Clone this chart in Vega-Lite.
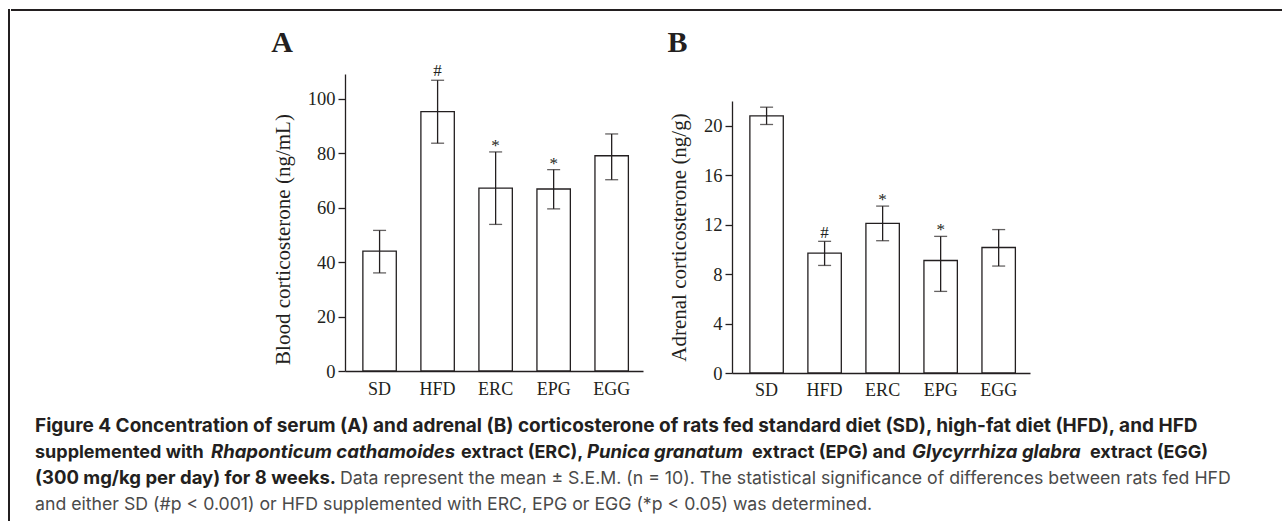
{
  "$schema": "https://vega.github.io/schema/vega-lite/v6.json",
  "padding": {"left": 8, "top": 9, "right": 0, "bottom": 0},
  "autosize": {"type": "pad"},
  "background": "white",
  "config": {
    "view": {"stroke": null},
    "font": "Liberation Serif"
  },
  "spacing": 0,
  "align": "none",
  "hconcat": [
    {
      "width": 0.001,
      "height": 540,
      "view": {"stroke": "#231f20", "strokeWidth": 2},
      "data": {"values": [{}]},
      "mark": {"type": "text", "text": " ", "fontSize": 0.01}
    },
    {
      "spacing": 16,
      "align": "none",
      "vconcat": [
        {
          "width": 1300,
          "height": 0.001,
          "view": {"stroke": "#231f20", "strokeWidth": 2},
          "data": {"values": [{}]},
          "mark": {"type": "text", "text": " ", "fontSize": 0.01}
        },
        {
          "spacing": 16.5,
          "align": "none",
          "vconcat": [
            {
              "spacing": 24,
              "align": "none",
              "hconcat": [
                {
                  "width": 235,
                  "height": 1,
                  "data": {"values": [{}]},
                  "mark": {"type": "text", "text": " ", "fontSize": 0.01}
                },
                {
                  "width": 298,
                  "height": 297,
                  "title": {"text": "A", "anchor": "start", "frame": "bounds", "font": "Liberation Serif", "fontSize": 30, "fontWeight": "bold", "offset": 4, "dx": -1, "color": "#231f20"},
                  "data": {"values": [
                    {"group": "SD", "mean": 44.0, "lo": 36.0, "hi": 51.6, "sig": ""},
                    {"group": "HFD", "mean": 95.2, "lo": 83.6, "hi": 106.7, "sig": "#"},
                    {"group": "ERC", "mean": 67.1, "lo": 53.8, "hi": 80.4, "sig": "*"},
                    {"group": "EPG", "mean": 66.8, "lo": 59.5, "hi": 73.9, "sig": "*"},
                    {"group": "EGG", "mean": 79.0, "lo": 70.2, "hi": 87.0, "sig": ""}
                  ]},
                  "encoding": {
                    "x": {
                      "field": "group", "type": "nominal", "sort": null,
                      "scale": {"paddingInner": 0.424, "paddingOuter": 0.28, "align": 0.55},
                      "axis": {"title": null, "domainColor": "#231f20", "domainWidth": 1.3, "ticks": false, "tickSize": 0, "labelFont": "Liberation Serif", "labelFontSize": 18, "labelColor": "#231f20", "labelPadding": 23, "labelBaseline": "alphabetic", "labelAngle": 0}
                    }
                  },
                  "layer": [
                    {
                      "mark": {"type": "bar", "fill": "white", "stroke": "#231f20", "strokeWidth": 1.3},
                      "encoding": {
                        "y": {
                          "field": "mean", "type": "quantitative",
                          "scale": {"domain": [0, 109], "nice": false},
                          "title": "Blood corticosterone (ng/mL)",
                          "axis": {"values": [0, 20, 40, 60, 80, 100], "grid": false, "domainColor": "#231f20", "domainWidth": 1.3, "tickColor": "#231f20", "tickWidth": 1.3, "tickSize": 7, "labelFont": "Liberation Serif", "labelFontSize": 18.5, "labelColor": "#231f20", "labelPadding": 3, "titleFont": "Liberation Serif", "titleFontSize": 21, "titleFontWeight": "normal", "titleColor": "#231f20", "titlePadding": 14, "titleY": 165}
                        }
                      }
                    },
                    {
                      "mark": {"type": "rule", "color": "#231f20", "strokeWidth": 1.3},
                      "encoding": {
                        "y": {"field": "lo", "type": "quantitative", "scale": {"domain": [0, 109], "nice": false}, "title": "Blood corticosterone (ng/mL)"},
                        "y2": {"field": "hi"}
                      }
                    },
                    {
                      "mark": {"type": "tick", "color": "#231f20", "size": 13, "thickness": 1.3},
                      "encoding": {"y": {"field": "lo", "type": "quantitative", "scale": {"domain": [0, 109], "nice": false}, "title": "Blood corticosterone (ng/mL)"}}
                    },
                    {
                      "mark": {"type": "tick", "color": "#231f20", "size": 13, "thickness": 1.3},
                      "encoding": {"y": {"field": "hi", "type": "quantitative", "scale": {"domain": [0, 109], "nice": false}, "title": "Blood corticosterone (ng/mL)"}}
                    },
                    {
                      "transform": [{"filter": "datum.sig == '#'"}],
                      "mark": {"type": "text", "font": "Liberation Serif", "fontSize": 17, "color": "#231f20", "baseline": "alphabetic", "dy": -4},
                      "encoding": {"y": {"field": "hi", "type": "quantitative", "scale": {"domain": [0, 109], "nice": false}, "title": "Blood corticosterone (ng/mL)"}, "text": {"field": "sig"}}
                    },
                    {
                      "transform": [{"filter": "datum.sig == '*'"}],
                      "mark": {"type": "text", "font": "Liberation Serif", "fontSize": 17, "color": "#231f20", "baseline": "alphabetic", "dy": -1},
                      "encoding": {"y": {"field": "hi", "type": "quantitative", "scale": {"domain": [0, 109], "nice": false}, "title": "Blood corticosterone (ng/mL)"}, "text": {"field": "sig"}}
                    }
                  ]
                },
                {
                  "title": {"text": "B", "anchor": "start", "frame": "bounds", "font": "Liberation Serif", "fontSize": 30, "fontWeight": "bold", "offset": 16, "dx": -1, "color": "#231f20"},
                  "spacing": 0,
                  "align": "none",
                  "vconcat": [
                    {
                      "width": 1,
                      "height": 26.5,
                      "data": {"values": [{}]},
                      "mark": {"type": "text", "text": " ", "fontSize": 0.01}
                    },
                    {
                      "width": 298,
                      "height": 272,
                      "data": {"values": [
                        {"group": "SD", "mean": 20.8, "lo": 20.1, "hi": 21.5, "sig": ""},
                        {"group": "HFD", "mean": 9.7, "lo": 8.7, "hi": 10.65, "sig": "#"},
                        {"group": "ERC", "mean": 12.1, "lo": 10.7, "hi": 13.5, "sig": "*"},
                        {"group": "EPG", "mean": 9.1, "lo": 6.6, "hi": 11.05, "sig": "*"},
                        {"group": "EGG", "mean": 10.15, "lo": 8.65, "hi": 11.6, "sig": ""}
                      ]},
                      "encoding": {
                        "x": {
                          "field": "group", "type": "nominal", "sort": null,
                          "scale": {"paddingInner": 0.424, "paddingOuter": 0.28, "align": 0.55},
                          "axis": {"title": null, "domainColor": "#231f20", "domainWidth": 1.3, "ticks": false, "tickSize": 0, "labelFont": "Liberation Serif", "labelFontSize": 18, "labelColor": "#231f20", "labelPadding": 22.5, "labelBaseline": "alphabetic", "labelAngle": 0}
                        }
                      },
                      "layer": [
                        {
                          "mark": {"type": "bar", "fill": "white", "stroke": "#231f20", "strokeWidth": 1.3},
                          "encoding": {
                            "y": {
                              "field": "mean", "type": "quantitative",
                              "scale": {"domain": [0, 22], "nice": false},
                              "title": "Adrenal corticosterone (ng/g)",
                              "axis": {"values": [0, 4, 8, 12, 16, 20], "grid": false, "domainColor": "#231f20", "domainWidth": 1.3, "tickColor": "#231f20", "tickWidth": 1.3, "tickSize": 7, "labelFont": "Liberation Serif", "labelFontSize": 18.5, "labelColor": "#231f20", "labelPadding": 3, "titleFont": "Liberation Serif", "titleFontSize": 21, "titleFontWeight": "normal", "titleColor": "#231f20", "titlePadding": 14}
                            }
                          }
                        },
                        {
                          "mark": {"type": "rule", "color": "#231f20", "strokeWidth": 1.3},
                          "encoding": {
                            "y": {"field": "lo", "type": "quantitative", "scale": {"domain": [0, 22], "nice": false}, "title": "Adrenal corticosterone (ng/g)"},
                            "y2": {"field": "hi"}
                          }
                        },
                        {
                          "mark": {"type": "tick", "color": "#231f20", "size": 13, "thickness": 1.3},
                          "encoding": {"y": {"field": "lo", "type": "quantitative", "scale": {"domain": [0, 22], "nice": false}, "title": "Adrenal corticosterone (ng/g)"}}
                        },
                        {
                          "mark": {"type": "tick", "color": "#231f20", "size": 13, "thickness": 1.3},
                          "encoding": {"y": {"field": "hi", "type": "quantitative", "scale": {"domain": [0, 22], "nice": false}, "title": "Adrenal corticosterone (ng/g)"}}
                        },
                        {
                          "transform": [{"filter": "datum.sig == '#'"}],
                          "mark": {"type": "text", "font": "Liberation Serif", "fontSize": 17, "color": "#231f20", "baseline": "alphabetic", "dy": -3},
                          "encoding": {"y": {"field": "hi", "type": "quantitative", "scale": {"domain": [0, 22], "nice": false}, "title": "Adrenal corticosterone (ng/g)"}, "text": {"field": "sig"}}
                        },
                        {
                          "transform": [{"filter": "datum.sig == '*'"}],
                          "mark": {"type": "text", "font": "Liberation Serif", "fontSize": 17, "color": "#231f20", "baseline": "alphabetic", "dy": -1.5},
                          "encoding": {"y": {"field": "hi", "type": "quantitative", "scale": {"domain": [0, 22], "nice": false}, "title": "Adrenal corticosterone (ng/g)"}, "text": {"field": "sig"}}
                        }
                      ]
                    }
                  ]
                }
              ]
            },
            {
              "width": 1250,
              "height": 78,
              "encoding": {
                "y": {"field": "line", "type": "ordinal", "scale": {"type": "point", "padding": 0}, "axis": null},
                "text": {"field": "text"}
              },
              "layer": [
                {
                  "data": {"values": [
                    {"line": 1, "text": "Figure 4 Concentration of serum (A) and adrenal (B) corticosterone of rats fed standard diet (SD), high-fat diet (HFD), and HFD"}
                  ]},
                  "mark": {"type": "text", "align": "left", "baseline": "alphabetic", "font": "Inter", "fontSize": 19, "fontWeight": "bold", "color": "#231f20", "x": 0, "dx": 23}
                },
                {
                  "data": {"values": [
                    {"line": 2, "text": "supplemented with"}
                  ]},
                  "mark": {"type": "text", "align": "left", "baseline": "alphabetic", "font": "Inter", "fontSize": 18, "fontWeight": "bold", "color": "#231f20", "x": 0, "dx": 23}
                },
                {
                  "data": {"values": [
                    {"line": 3, "text": "(300 mg/kg per day) for 8 weeks."}
                  ]},
                  "mark": {"type": "text", "align": "left", "baseline": "alphabetic", "font": "Inter", "fontSize": 18.5, "fontWeight": "bold", "color": "#231f20", "x": 0, "dx": 23}
                },
                {
                  "data": {"values": [{"line": 2, "text": "Rhaponticum cathamoides"}]},
                  "mark": {"type": "text", "align": "left", "baseline": "alphabetic", "font": "Inter", "fontSize": 18.5, "fontWeight": "bold", "fontStyle": "italic", "color": "#231f20", "x": 0, "dx": 199}
                },
                {
                  "data": {"values": [{"line": 2, "text": "extract (ERC),"}]},
                  "mark": {"type": "text", "align": "left", "baseline": "alphabetic", "font": "Inter", "fontSize": 18, "fontWeight": "bold", "color": "#231f20", "x": 0, "dx": 449}
                },
                {
                  "data": {"values": [{"line": 2, "text": "Punica granatum"}]},
                  "mark": {"type": "text", "align": "left", "baseline": "alphabetic", "font": "Inter", "fontSize": 18.5, "fontWeight": "bold", "fontStyle": "italic", "color": "#231f20", "x": 0, "dx": 575}
                },
                {
                  "data": {"values": [{"line": 2, "text": "extract (EPG) and"}]},
                  "mark": {"type": "text", "align": "left", "baseline": "alphabetic", "font": "Inter", "fontSize": 18, "fontWeight": "bold", "color": "#231f20", "x": 0, "dx": 740}
                },
                {
                  "data": {"values": [{"line": 2, "text": "Glycyrrhiza glabra"}]},
                  "mark": {"type": "text", "align": "left", "baseline": "alphabetic", "font": "Inter", "fontSize": 18.5, "fontWeight": "bold", "fontStyle": "italic", "color": "#231f20", "x": 0, "dx": 900}
                },
                {
                  "data": {"values": [{"line": 2, "text": "extract (EGG)"}]},
                  "mark": {"type": "text", "align": "left", "baseline": "alphabetic", "font": "Inter", "fontSize": 18, "fontWeight": "bold", "color": "#231f20", "x": 0, "dx": 1078}
                },
                {
                  "data": {"values": [{"line": 3, "text": "Data represent the mean ± S.E.M. (n = 10). The statistical significance of differences between rats fed HFD"}]},
                  "mark": {"type": "text", "align": "left", "baseline": "alphabetic", "font": "Inter", "fontSize": 17.7, "color": "#4a4a4a", "x": 0, "dx": 328}
                },
                {
                  "data": {"values": [{"line": 4, "text": "and either SD (#p < 0.001) or HFD supplemented with ERC, EPG or EGG (*p < 0.05) was determined."}]},
                  "mark": {"type": "text", "align": "left", "baseline": "alphabetic", "font": "Inter", "fontSize": 17.7, "color": "#4a4a4a", "x": 0, "dx": 23}
                }
              ]
            }
          ]
        }
      ]
    }
  ]
}
